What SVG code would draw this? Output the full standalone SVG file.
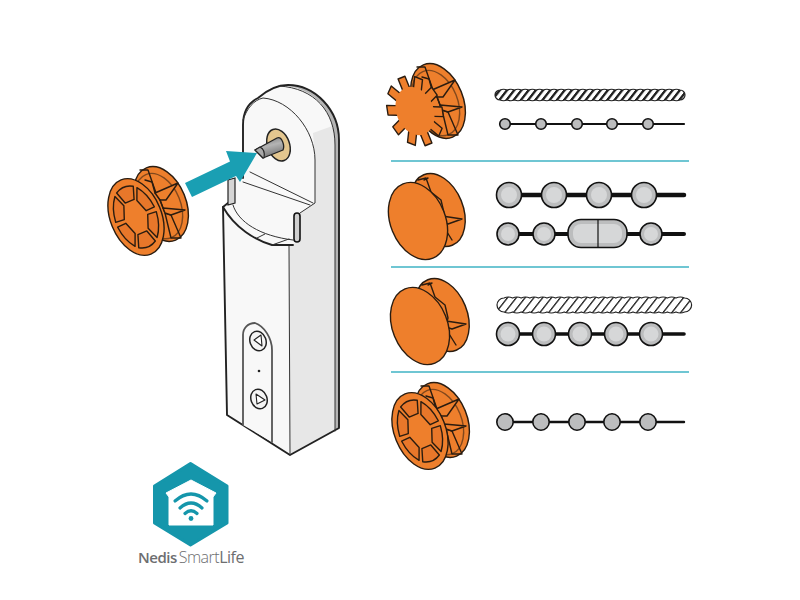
<svg xmlns="http://www.w3.org/2000/svg" xmlns:xlink="http://www.w3.org/1999/xlink" width="800" height="600" viewBox="0 0 800 600">
<style>
.k{stroke:#2a1c10;stroke-width:1.4;stroke-linejoin:round;stroke-linecap:round;vector-effect:non-scaling-stroke}
.o{fill:#ee7f2c}.o2{fill:#e8772a}
.n{fill:none}
.line{stroke:#111;stroke-linecap:round;fill:none}
.bead{fill:#bcbdbe;stroke:#111;stroke-width:1.6}
.hl{fill:#d6d7d8}
.sep{stroke:#3fb3c4;stroke-width:1.6}
.dev{stroke:#222;stroke-width:1.9;stroke-linejoin:round;stroke-linecap:round;fill:none}
.thin{stroke:#333;stroke-width:1;fill:none;stroke-linecap:round;stroke-linejoin:round}
</style>
<defs>
<pattern id="rope1" width="7.2" height="7.2" patternUnits="userSpaceOnUse" patternTransform="skewX(-38)">
<rect width="7.2" height="7.2" fill="#fff"/><rect width="3" height="7.2" fill="#222"/>
</pattern>
<pattern id="rope2" width="8.8" height="8.8" patternUnits="userSpaceOnUse" patternTransform="skewX(-38)">
<rect width="8.8" height="8.8" fill="#fff"/><rect width="1.7" height="8.8" fill="#222"/>
</pattern>
<linearGradient id="pin" x1="0" y1="0" x2="0.35" y2="1">
<stop offset="0" stop-color="#6f6f6f"/><stop offset=".5" stop-color="#b4b4b4"/><stop offset="1" stop-color="#777"/>
</linearGradient>
<g id="back">
<ellipse class="k o" rx="25" ry="39" transform="rotate(-22)"/>
<ellipse class="k n" cx="-3" cy="1" rx="22" ry="34" transform="rotate(-22)" stroke-opacity=".55"/>
<path class="k n" d="M-21-34L-13-34L-5-11L-1-4L4 9L10 34L20 34L10 11L4 9"/>
<path class="k o" d="M-6-11L17-21L5-4L-1-4Z"/>
<path class="k o" d="M2 4L24 6L10 11L4 9Z"/>
<path class="k n" d="M-1-4L2 4M-16-24L-9-22L-6-11"/>
</g>
<g id="flatback">
<ellipse class="k o" rx="25" ry="38" transform="rotate(-22)"/>
<path class="k n" d="M-20-30L-12-32L-7-18L3-10L6 3L4 10"/>
<path class="k o" d="M4 6L24 9L10 14L4 12Z"/>
<path class="k n" d="M4 14L14 30M-14-30L-10-32"/>
</g>
<g id="seg"><path class="k o2" d="M-7.500-17L7.500-17L14-29.500Q0-35-14-29.500Z"/></g>
<g id="rimfront" transform="rotate(-22) scale(.64 1)">
<ellipse class="k o" rx="40" ry="40"/>
<use xlink:href="#seg"/>
<use xlink:href="#seg" transform="rotate(60)"/>
<use xlink:href="#seg" transform="rotate(120)"/>
<use xlink:href="#seg" transform="rotate(180)"/>
<use xlink:href="#seg" transform="rotate(240)"/>
<use xlink:href="#seg" transform="rotate(300)"/>
</g>
<g id="tooth"><rect class="k o" x="-5" y="-36" width="10" height="36"/></g>
</defs>

<g id="separators">
<line class="sep" x1="391" y1="161" x2="689" y2="161"/>
<line class="sep" x1="391" y1="267" x2="689" y2="267"/>
<line class="sep" x1="391" y1="372" x2="689" y2="372"/>
</g>

<g id="device">
<path d="M223 207L227 415L290 455L339 428L339 140C339 110 315 85 288 85C275 85 266 91 258 98C248 103 243 112 243 125L243 178L235 178L228 180L228 203Z" fill="#f8f8f8"/>
<path d="M289 245L300 242L300 213L315 203L315 160L313 133L335 125L335 431L290 455Z" fill="#e7e7e7"/>
<path d="M278 85C315 86 335 112 335 145L335 431L339 428L339 140C339 110 315 85 288 85Z" fill="#b5b5b5"/>
<path class="dev" d="M243 178L243 125C243 112 248 103 258 98C266 91 275 85 288 85C315 85 339 110 339 140L339 428L290 455L227 415L223 207L228 203"/>
<path class="thin" d="M279 86C315 88 335 112 335 145L335 431"/>
<path class="thin" d="M243 120C247 108 254 100 263 98C290 100 315 130 315 160L315 203L300 213"/>
<path class="thin" d="M250 172L313 203M243 182L310 205"/>
<path class="thin" d="M289 245L290 455"/>
<path d="M223 207C235 228 255 240 272 245L293 245" class="dev"/>
<path class="thin" d="M233 205C238 222 260 236 293 240M257 238L265 234M272 245L289 239"/>
<path d="M228 180L235 178L235 203L228 205Z" fill="#d5d5d5" stroke="#222" stroke-width="1.2"/>
<rect x="294" y="213" width="6" height="29" rx="3" fill="#cfcfcf" stroke="#111" stroke-width="1.6"/>
<path d="M243 335C243 328 248 323 255 323C264 326 272 338 272 350L272 442L243 425Z" fill="#f8f8f8"/>
<path d="M243 425L243 335C243 328 248 323 255 323C264 326 272 338 272 350L272 442" fill="none" stroke="#555" stroke-width="1.8" stroke-linecap="round"/>
<ellipse cx="258" cy="341" rx="8" ry="10" transform="rotate(-20 258 341)" fill="#f4f4f4" stroke="#222" stroke-width="1.5"/>
<path d="M254 340L261 335L262 346Z" fill="#fff" stroke="#222" stroke-width="1.1" stroke-linejoin="round"/>
<ellipse cx="259" cy="399" rx="8" ry="10" transform="rotate(-20 259 399)" fill="#f4f4f4" stroke="#222" stroke-width="1.500"/>
<path d="M256 394L265 400L257 404Z" fill="#fff" stroke="#222" stroke-width="1.100" stroke-linejoin="round"/>
<circle cx="259" cy="371" r="1.300" fill="#222"/>
<ellipse cx="278.500" cy="145" rx="11" ry="16.500" transform="rotate(-20 278.500 145)" fill="#e3c68f" stroke="#222" stroke-width="1.500"/>
</g>

<g id="connectors">
<path id="arrow" d="M185 183L230 161.500L226 151L257 153L240 182L236 176L192 197Z" fill="#1a9fb3"/>
</g>

<g id="pin-shaft">
<path d="M255 150L277 138C282 136 285 146 283 150L263 158Z" fill="url(#pin)" stroke="#222" stroke-width="1.300" stroke-linejoin="round"/>
<path d="M255 150L260 147C264 149 265 153 264 158L263 158Z" fill="#a9a9a9" stroke="#222" stroke-width="1.100" stroke-linejoin="round"/>
</g>

<g id="spool-left">
<use xlink:href="#back" x="161" y="204"/>
<use xlink:href="#rimfront" x="136" y="217"/>
</g>

<g id="spool-star">
<use xlink:href="#back" x="438" y="101"/>
<g transform="translate(415 111) rotate(-22) scale(.74 1)">
<use xlink:href="#tooth"/>
<use xlink:href="#tooth" transform="rotate(36)"/>
<use xlink:href="#tooth" transform="rotate(72)"/>
<use xlink:href="#tooth" transform="rotate(108)"/>
<use xlink:href="#tooth" transform="rotate(144)"/>
<use xlink:href="#tooth" transform="rotate(180)"/>
<use xlink:href="#tooth" transform="rotate(216)"/>
<use xlink:href="#tooth" transform="rotate(252)"/>
<use xlink:href="#tooth" transform="rotate(288)"/>
<use xlink:href="#tooth" transform="rotate(324)"/>
<circle class="o" r="25"/>
</g>
</g>

<g id="spool-flat-1">
<use xlink:href="#flatback" x="438" y="210"/>
<ellipse class="k o" cx="418" cy="221" rx="27.500" ry="40" transform="rotate(-22 418 221)"/>
</g>

<g id="spool-flat-2">
<use xlink:href="#flatback" x="442" y="315"/>
<ellipse class="k o" cx="420" cy="326" rx="27.500" ry="40" transform="rotate(-22 420 326)"/>
</g>

<g id="spool-rim">
<use xlink:href="#back" x="442" y="420"/>
<use xlink:href="#rimfront" x="420" y="431"/>
</g>

<g id="cord-1">
<path d="M500 90q3.600-1.500 7.200 0q3.600-1.500 7.200 0q3.600-1.500 7.200 0q3.600-1.500 7.200 0q3.600-1.500 7.200 0q3.600-1.500 7.200 0q3.600-1.500 7.200 0q3.600-1.500 7.200 0q3.600-1.500 7.200 0q3.600-1.500 7.200 0q3.600-1.500 7.200 0q3.600-1.500 7.200 0q3.600-1.500 7.200 0q3.600-1.500 7.200 0q3.600-1.500 7.200 0q3.600-1.500 7.200 0q3.600-1.500 7.200 0q3.600-1.500 7.200 0q3.600-1.500 7.200 0q3.600-1.500 7.200 0q3.600-1.500 7.200 0q3.600-1.500 7.200 0q3.600-1.500 7.200 0q3.600-1.500 7.200 0q3.600-1.500 7.200 0a5 5 0 0 1 0 10q-3.600 1.500-7.200 0q-3.600 1.500-7.200 0q-3.600 1.500-7.200 0q-3.600 1.500-7.200 0q-3.600 1.500-7.200 0q-3.600 1.500-7.200 0q-3.600 1.500-7.200 0q-3.600 1.500-7.200 0q-3.600 1.500-7.200 0q-3.600 1.500-7.200 0q-3.600 1.500-7.200 0q-3.600 1.500-7.200 0q-3.600 1.500-7.200 0q-3.600 1.500-7.200 0q-3.600 1.500-7.200 0q-3.600 1.500-7.200 0q-3.600 1.500-7.200 0q-3.600 1.500-7.200 0q-3.600 1.500-7.200 0q-3.600 1.500-7.200 0q-3.600 1.500-7.200 0q-3.600 1.500-7.200 0q-3.600 1.500-7.200 0q-3.600 1.500-7.200 0q-3.600 1.500-7.200 0a5 5 0 0 1 0-10Z" fill="url(#rope1)" stroke="#222" stroke-width="1.200"/>
</g>
<g id="cord-2">
<line class="line" x1="505" y1="124" x2="684" y2="124" stroke-width="2.200"/>
<g class="bead"><circle cx="505" cy="124" r="5.300"/><circle cx="541" cy="124" r="5.300"/><circle cx="577" cy="124" r="5.300"/><circle cx="612" cy="124" r="5.300"/><circle cx="648" cy="124" r="5.300"/></g>
</g>
<g id="cord-3">
<line class="line" x1="509" y1="195" x2="684" y2="195" stroke-width="4.500"/>
<g class="bead"><circle cx="509" cy="195" r="12.500"/><circle cx="554" cy="195" r="12.500"/><circle cx="599" cy="195" r="12.500"/><circle cx="644" cy="195" r="12.500"/></g>
<g class="hl"><circle cx="509" cy="195" r="8"/><circle cx="554" cy="195" r="8"/><circle cx="599" cy="195" r="8"/><circle cx="644" cy="195" r="8"/></g>
</g>
<g id="cord-4">
<line class="line" x1="508" y1="234" x2="684" y2="234" stroke-width="4"/>
<g class="bead"><circle cx="508" cy="234" r="11"/><circle cx="544" cy="234" r="11"/><circle cx="651" cy="234" r="11"/><rect x="568" y="219.500" width="59" height="28" rx="13"/></g>
<g class="hl"><circle cx="508" cy="234" r="7"/><circle cx="544" cy="234" r="7"/><circle cx="651" cy="234" r="7"/><rect x="573" y="224" width="49" height="19" rx="8"/></g>
<line x1="598" y1="220" x2="598" y2="247" stroke="#111" stroke-width="1.200"/>
</g>
<g id="cord-5">
<path d="M504 298q4.300-2 8.600 0q4.300-2 8.600 0q4.300-2 8.600 0q4.300-2 8.600 0q4.300-2 8.600 0q4.300-2 8.600 0q4.300-2 8.600 0q4.300-2 8.600 0q4.300-2 8.600 0q4.300-2 8.600 0q4.300-2 8.600 0q4.300-2 8.600 0q4.300-2 8.600 0q4.300-2 8.600 0q4.300-2 8.600 0q4.300-2 8.600 0q4.300-2 8.600 0q4.300-2 8.600 0q4.300-2 8.600 0q4.300-2 8.600 0q4.300-2 8.600 0a7 7 0 0 1 0 14q-4.300 2-8.600 0q-4.300 2-8.600 0q-4.300 2-8.600 0q-4.300 2-8.600 0q-4.300 2-8.600 0q-4.300 2-8.600 0q-4.300 2-8.600 0q-4.300 2-8.600 0q-4.300 2-8.600 0q-4.300 2-8.600 0q-4.300 2-8.600 0q-4.300 2-8.600 0q-4.300 2-8.600 0q-4.300 2-8.600 0q-4.300 2-8.600 0q-4.300 2-8.600 0q-4.300 2-8.600 0q-4.300 2-8.600 0q-4.300 2-8.600 0q-4.300 2-8.600 0q-4.300 2-8.600 0a7 7 0 0 1 0-14Z" fill="url(#rope2)" stroke="#222" stroke-width="1.200"/>
</g>
<g id="cord-6">
<line class="line" x1="508" y1="334" x2="684" y2="334" stroke-width="3.600"/>
<g class="bead"><circle cx="508" cy="334" r="11.500"/><circle cx="544" cy="334" r="11.500"/><circle cx="580" cy="334" r="11.500"/><circle cx="616" cy="334" r="11.500"/><circle cx="651" cy="334" r="11.500"/></g>
<g class="hl"><circle cx="508" cy="334" r="7.500"/><circle cx="544" cy="334" r="7.500"/><circle cx="580" cy="334" r="7.500"/><circle cx="616" cy="334" r="7.500"/><circle cx="651" cy="334" r="7.500"/></g>
</g>
<g id="cord-7">
<line class="line" x1="505" y1="422" x2="684" y2="422" stroke-width="2.400"/>
<g class="bead"><circle cx="505" cy="422" r="8.200"/><circle cx="541" cy="422" r="8.200"/><circle cx="577" cy="422" r="8.200"/><circle cx="612" cy="422" r="8.200"/><circle cx="648" cy="422" r="8.200"/></g>
</g>

<g id="logo">
<path d="M190.500 463.500L227 486L227 523L190.500 545L154.500 523L154.500 486Z" fill="#1596ab" stroke="#1596ab" stroke-width="3" stroke-linejoin="round"/>
<path d="M191 480L216 493L213 497L213 525L169 525L169 497L166 493Z" fill="#fff" stroke="#fff" stroke-width="1" stroke-linejoin="round"/>
<g fill="none" stroke="#1596ab" stroke-linecap="round" stroke-width="3.200">
<path d="M175 501Q191 487 207 501"/>
<path d="M180 508Q191 498 202 508"/>
<path d="M185 513.500Q191 508 197 513.500"/>
</g>
<circle cx="191" cy="518.500" r="2.400" fill="#1596ab"/>
<text x="138" y="563" font-family="'Open Sans', Lato, sans-serif" font-size="15" letter-spacing="-.5" fill="#6d6e70"><tspan font-weight="600">Nedis</tspan><tspan dx="2" font-weight="300" font-size="16">Smart</tspan><tspan font-weight="500" font-size="16">Life</tspan></text>
</g>
</svg>
